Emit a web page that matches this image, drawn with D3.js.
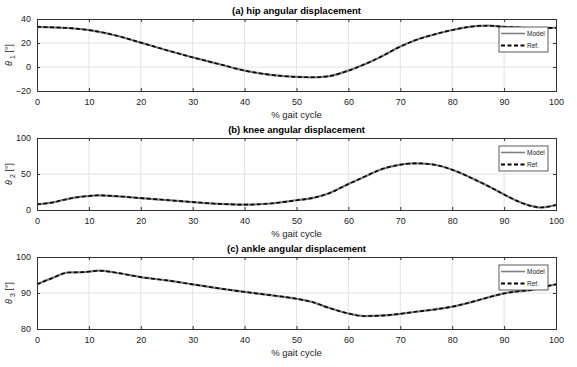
<!DOCTYPE html>
<html>
<head>
<meta charset="utf-8">
<script src="https://cdn.jsdelivr.net/npm/d3@7"></script>
<style>
  body { margin: 0; background: #fff; }
  svg { font-family: "Liberation Sans", Arial, sans-serif; }
</style>
</head>
<body>
<div id="chart"></div>
<script>
// % gait cycle sample points
const gaitPct = [0, 3, 6, 9, 12, 15, 20, 25, 30, 35, 40, 45, 50, 53, 56, 60, 63, 66, 70, 73, 76, 80, 85, 87, 90, 93, 95, 97, 100];

// hip, knee, ankle angles (deg)
const hipAngle = [33.5, 33.0, 32.5, 31.3, 29.3, 26.5, 20.3, 14.0, 8.0, 2.5, -3.0, -6.5, -8.3, -8.6, -7.8, -3.0, 2.0, 8.0, 17.0, 22.5, 26.5, 30.8, 34.2, 34.4, 33.5, 32.8, 32.5, 32.5, 32.7];
const kneeAngle = [7.9, 10.5, 15.5, 18.8, 20.4, 19.3, 16.5, 13.8, 11.0, 8.5, 7.4, 9.0, 13.5, 16.5, 22.5, 36.0, 46.0, 55.5, 63.0, 64.8, 63.5, 56.0, 40.0, 33.0, 21.5, 11.0, 6.0, 3.5, 7.0];
const ankleAngle = [92.4, 94.2, 95.7, 95.8, 96.2, 95.7, 94.4, 93.5, 92.4, 91.3, 90.3, 89.4, 88.4, 87.5, 86.0, 84.3, 83.6, 83.7, 84.2, 84.8, 85.3, 86.2, 88.0, 88.8, 89.9, 90.5, 90.8, 91.5, 92.4];

const xTicks = [0, 10, 20, 30, 40, 50, 60, 70, 80, 90, 100];
const panelTitles = ["(a) hip angular displacement", "(b) knee angular displacement", "(c) ankle angular displacement"];
const panelTicks = [[-20, 0, 20, 40], [0, 50, 100], [80, 90, 100]];
const panelSubs = ["1", "2", "3"];
const legendLabels = ["Model", "Ref."];

const W = 577, H = 367;
const left = 37, right = 556;
const panelTops = [19, 138, 257];
const panelH = 72;

const svg = d3.select("#chart").append("svg")
    .attr("width", W)
    .attr("height", H);

const x = d3.scaleLinear().domain([0, 100]).range([left, right]);

const series = [hipAngle, kneeAngle, ankleAngle];

series.forEach((vals, p) => {
    const top = panelTops[p];
    const ticks = panelTicks[p];
    const y = d3.scaleLinear()
        .domain([ticks[0], ticks[ticks.length - 1]])
        .range([top + panelH, top]);

    const g = svg.append("g");

    // grid
    g.selectAll(".vg").data(xTicks.slice(1, -1)).enter().append("line")
        .attr("x1", d => x(d)).attr("x2", d => x(d))
        .attr("y1", top).attr("y2", top + panelH)
        .attr("stroke", "#e3e3e3").attr("stroke-width", 1);
    g.selectAll(".hg").data(ticks.slice(1, -1)).enter().append("line")
        .attr("x1", left).attr("x2", right)
        .attr("y1", d => y(d)).attr("y2", d => y(d))
        .attr("stroke", "#e3e3e3").attr("stroke-width", 1);

    // curves
    const line = d3.line()
        .x((d, i) => x(gaitPct[i]))
        .y(d => y(d))
        .curve(d3.curveMonotoneX);

    g.append("path").datum(vals)
        .attr("d", line)
        .attr("fill", "none")
        .attr("stroke", "#808080")
        .attr("stroke-width", 2.2);
    g.append("path").datum(vals)
        .attr("d", line)
        .attr("fill", "none")
        .attr("stroke", "#000")
        .attr("stroke-width", 1.6)
        .attr("stroke-dasharray", "4,2.5");

    // axes (ticks inside, box)
    const xAxis = g.append("g")
        .attr("transform", `translate(0,${top + panelH})`)
        .call(d3.axisBottom(x).tickValues(xTicks).tickSize(-3).tickPadding(6));
    const xTop = g.append("g")
        .attr("transform", `translate(0,${top})`)
        .call(d3.axisTop(x).tickValues(xTicks).tickSize(-3).tickFormat(""));
    const yAxis = g.append("g")
        .attr("transform", `translate(${left},0)`)
        .call(d3.axisLeft(y).tickValues(ticks).tickSize(-3).tickPadding(6));
    const yRight = g.append("g")
        .attr("transform", `translate(${right},0)`)
        .call(d3.axisRight(y).tickValues(ticks).tickSize(-3).tickFormat(""));

    [xAxis, xTop, yAxis, yRight].forEach(a => {
        a.select(".domain").attr("stroke", "#333");
        a.selectAll(".tick line").attr("stroke", "#333");
        a.selectAll("text").style("font-size", "9px").attr("fill", "#222");
    });
    xAxis.selectAll("text").attr("dy", "0.85em");

    // title
    g.append("text")
        .attr("x", (left + right) / 2)
        .attr("y", top - 5.5)
        .attr("text-anchor", "middle")
        .style("font-size", "9.5px")
        .style("font-weight", "bold")
        .text(panelTitles[p]);

    // x label
    g.append("text")
        .attr("x", (left + right) / 2)
        .attr("y", top + panelH + 27)
        .attr("text-anchor", "middle")
        .style("font-size", "9.5px")
        .attr("fill", "#222")
        .text("% gait cycle");

    // y label
    const yl = g.append("text")
        .attr("transform", `translate(12,${top + panelH / 2}) rotate(-90)`)
        .attr("text-anchor", "middle")
        .style("font-size", "9px")
        .attr("fill", "#222");
    yl.append("tspan").style("font-style", "italic").text("θ");
    yl.append("tspan").attr("dy", 3).style("font-size", "7px").text(" " + panelSubs[p]);
    yl.append("tspan").attr("dy", -3).text(" [°]");

    // legend
    const lx = 499, ly = top + 8;
    const leg = g.append("g");
    leg.append("rect")
        .attr("x", lx).attr("y", ly)
        .attr("width", 49).attr("height", 25)
        .attr("fill", "#fff").attr("stroke", "#333").attr("stroke-width", 0.8);
    legendLabels.forEach((lab, i) => {
        const yy = ly + 6.5 + i * 12;
        leg.append("line")
            .attr("x1", lx + 2).attr("x2", lx + 26)
            .attr("y1", yy).attr("y2", yy)
            .attr("stroke", i === 0 ? "#808080" : "#000")
            .attr("stroke-width", i === 0 ? 1.6 : 1.8)
            .attr("stroke-dasharray", i === 0 ? null : "4,2.5");
        leg.append("text")
            .attr("x", lx + 28).attr("y", yy + 2.3)
            .style("font-size", "6.5px")
            .attr("fill", "#222")
            .text(lab);
    });
});
</script>
</body>
</html>
